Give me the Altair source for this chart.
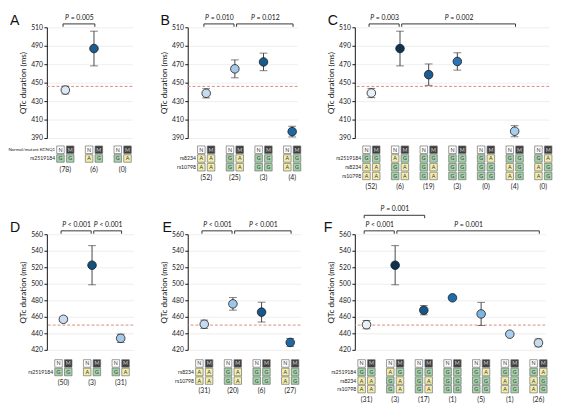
import altair as alt
import pandas as pd

FONT = "Lato"
LETTER_FONT = "Liberation Sans"

# ---------------- data ----------------
YTICKS_TOP = [390, 410, 430, 450, 470, 490, 510]
YTICKS_BOTTOM = [420, 440, 460, 480, 500, 520, 540, 560]
REF_TOP = 446
REF_BOTTOM = 450

# Panel A
A_n = [78, 6, 0]
A_qtc = [442, 487, None]
A_sem = [4.2, 18.8, None]
A_fill = ["#dbe8f5", "#1d5c8c", None]
A_rs2519184 = ["GG", "AG", "GA"]
A_p = [(1, 2, "= 0.005", 1)]

# Panel B
B_n = [52, 25, 3, 4]
B_qtc = [438.5, 465, 472.5, 397]
B_sem = [5, 9.7, 9.5, 5.8]
B_fill = ["#c6dbef", "#a6c9e8", "#185a8c", "#1d68a3"]
B_rs8234 = ["AA", "GA", "GG", "AG"]
B_rs10798 = ["AA", "GA", "GG", "AG"]
B_p = [(1, 2, "= 0.010", 1), (2, 4, "= 0.012", 1)]

# Panel C
C_n = [52, 6, 19, 3, 0, 4, 0]
C_qtc = [438.8, 487, 458.7, 473, None, 397.4, None]
C_sem = [5, 18.8, 11.6, 9.4, None, 6, None]
C_fill = ["#e8eff7", "#0c3353", "#1b5d96", "#2a74b5", None, "#a9cdec", None]
C_rs2519184 = ["GG", "AG", "GG", "GG", "GA", "GG", "GA"]
C_rs8234 = ["AA", "GA", "GA", "GG", "GG", "AG", "AG"]
C_rs10798 = ["AA", "GA", "GA", "GG", "GG", "AG", "AG"]
C_p = [(1, 2, "= 0.003", 1), (2, 6, "= 0.002", 1)]

# Panel D
D_n = [50, 3, 31]
D_qtc = [457, 522.5, 434]
D_sem = [3, 23.7, 5]
D_fill = ["#c9dcf0", "#14507e", "#a8c8e8"]
D_rs2519184 = ["GG", "AG", "GA"]
D_p = [(1, 2, "< 0.001", 1), (2, 3, "< 0.001", 1)]

# Panel E
E_n = [31, 20, 6, 27]
E_qtc = [451, 475.7, 465.7, 429]
E_sem = [5, 7.6, 12, 4.8]
E_fill = ["#c6dbef", "#9fc6e8", "#17578a", "#1f68a6"]
E_rs8234 = ["AA", "GA", "GG", "AG"]
E_rs10798 = ["AA", "GA", "GG", "AG"]
E_p = [(1, 2, "< 0.001", 1), (2, 4, "< 0.001", 1)]

# Panel F
F_n = [31, 3, 17, 1, 5, 1, 26]
F_qtc = [450.5, 522.5, 468, 483, 463.5, 439, 428.5]
F_sem = [5, 23.7, 5.6, None, 14, None, 4.7]
F_fill = ["#e8f0f8", "#0c3353", "#17558a", "#1f6cad", "#7db5e0", "#a9cdec", "#c6dcef"]
F_rs2519184 = ["GG", "AG", "GG", "GG", "GA", "GG", "GA"]
F_rs8234 = ["AA", "GA", "GA", "GG", "GG", "AG", "AG"]
F_rs10798 = ["AA", "GA", "GA", "GG", "GG", "AG", "AG"]
F_p = [(1, 3, "= 0.001", 2), (1, 2, "< 0.001", 1), (2, 7, "= 0.001", 1)]

ALLELES = ["N", "M", "G", "A"]
ALLELE_FILL = ["#ffffff", "#3d3d3d", "#a3d2a9", "#f3eeab"]

PPU = 29.5  # pixels per group step


def panel(letter, n_list, qtc, sem, fill, snps, brackets, yticks, ref,
          L, width, letter_dx, height, tab_gap, pitch, nm_label=None):
    n = len(n_list)
    d0 = 1 - L / PPU
    d1 = d0 + width / PPU
    ymin, ymax = yticks[0], yticks[-1]
    upp = (ymax - ymin) / height

    xs = alt.Scale(domain=[d0, d1], nice=False, zero=False)
    ys = alt.Scale(domain=[ymin, ymax], nice=False, zero=False)

    def X(f):
        return alt.X(f, type="quantitative", scale=xs, axis=None)

    def Y(f):
        return alt.Y(f, type="quantitative", scale=ys, axis=None)

    g = list(range(1, n + 1))
    pts = pd.DataFrame({"g": g, "qtc": qtc, "sem": sem, "fill": fill})
    pts_ok = pts.dropna(subset=["qtc"])[["g", "qtc", "fill"]]
    err = pts.dropna(subset=["sem"]).copy()
    err["lo"] = err["qtc"] - err["sem"]
    err["hi"] = err["qtc"] + err["sem"]
    err = err[["g", "lo", "hi"]]
    caps = pd.concat([
        err[["g", "lo"]].rename(columns={"lo": "v"}),
        err[["g", "hi"]].rename(columns={"hi": "v"}),
    ])

    yaxis = alt.Axis(values=yticks, title="QTc duration (ms)", grid=True,
                     gridColor="#e9e9e9", gridWidth=0.8, domainColor="#111",
                     tickColor="#111", tickSize=3, labelFontSize=7,
                     labelColor="#222", labelPadding=1.5, titleFontSize=8.3,
                     titleFontWeight="normal", titleColor="#111", titlePadding=3)
    xaxis = alt.Axis(labels=False, ticks=False, grid=False, title=None,
                     domainColor="#111", domainWidth=1)

    layers = []
    layers.append(alt.Chart(pd.DataFrame({"v": [ref]})).mark_rule(
        strokeDash=[3, 2], color="#d98a78", strokeWidth=1).encode(y=Y("v")))
    layers.append(alt.Chart(err).mark_rule(color="#444", strokeWidth=1).encode(
        x=X("g"), y=Y("lo"), y2="hi"))
    layers.append(alt.Chart(caps).mark_tick(orient="horizontal", size=8,
                                            thickness=1, color="#444").encode(
        x=X("g"), y=Y("v")))
    layers.append(alt.Chart(pts_ok).mark_circle(
        size=78, opacity=1, stroke="#1a1a1a", strokeWidth=0.8).encode(
        x=alt.X("g:Q", scale=xs, axis=xaxis),
        y=alt.Y("qtc:Q", scale=ys, axis=yaxis),
        color=alt.Color("fill:N", scale=None)))

    # significance brackets
    starts = {(b[0], b[3]) for b in brackets}
    ends = {(b[1], b[3]) for b in brackets}
    hrows, vrows, lrows = [], [], []
    for (a, b, txt, lev) in brackets:
        x1 = a + (0.06 if (a, lev) in ends else -0.08)
        x2 = b + (-0.03 if (b, lev) in starts else 0.03)
        off = 3.5 + 16 * (lev - 1)
        yb = ymax + off * upp
        yt = ymax + (off - 3) * upp
        yl = ymax + (off + 6) * upp
        hrows.append({"x1": x1, "x2": x2, "y": yb})
        vrows.append({"x": x1, "y": yb, "y2": yt})
        vrows.append({"x": x2, "y": yb, "y2": yt})
        lrows.append({"x": (x1 + x2) / 2, "y": yl, "t": txt})
    hdf, vdf, ldf = pd.DataFrame(hrows), pd.DataFrame(vrows), pd.DataFrame(lrows)
    layers.append(alt.Chart(hdf).mark_rule(color="#333", strokeWidth=1).encode(
        x=X("x1"), x2="x2", y=Y("y")))
    layers.append(alt.Chart(vdf).mark_rule(color="#333", strokeWidth=1).encode(
        x=X("x"), y=Y("y"), y2="y2"))
    layers.append(alt.Chart(ldf).mark_text(
        text="P", fontStyle="italic", fontSize=7, align="right", dx=-10.3,
        baseline="middle", color="#111").encode(x=X("x"), y=Y("y")))
    layers.append(alt.Chart(ldf).mark_text(
        fontSize=7, align="left", dx=-8.5, baseline="middle",
        color="#111").encode(x=X("x"), y=Y("y"), text="t:N"))

    ltr = pd.DataFrame({"x": [d0], "y": [ymax + 6 * upp], "t": [letter]})
    layers.append(alt.Chart(ltr).mark_text(
        font=LETTER_FONT, fontSize=14.5, align="left", baseline="middle",
        dx=letter_dx, color="#111").encode(x=X("x"), y=Y("y"), text="t:N"))

    # genotype table
    row_keys = ["nm"] + [s[0] for s in snps] + ["count"]
    cells = []
    for i in range(n):
        cells.append({"g": i + 1, "row": "nm", "col": "N", "allele": "N"})
        cells.append({"g": i + 1, "row": "nm", "col": "M", "allele": "M"})
        for name, gl in snps:
            cells.append({"g": i + 1, "row": name, "col": "N", "allele": gl[i][0]})
            cells.append({"g": i + 1, "row": name, "col": "M", "allele": gl[i][1]})
    cdf = pd.DataFrame(cells)
    y0 = height + tab_gap
    y1 = y0 + pitch * (len(row_keys) - 1)
    tys = alt.Scale(type="point", domain=row_keys, range=[y0, y1], padding=0)
    TY = alt.Y("row:N", scale=tys, axis=None)
    fill_scale = alt.Scale(domain=ALLELES, range=ALLELE_FILL)
    for col, off in (("N", -5), ("M", 5)):
        sub = cdf[cdf["col"] == col]
        layers.append(alt.Chart(sub).mark_square(
            size=60, xOffset=off, opacity=1, stroke="#6f6f6f",
            strokeWidth=0.7).encode(
            x=X("g"), y=TY,
            fill=alt.Fill("allele:N", scale=fill_scale, legend=None)))
        layers.append(alt.Chart(sub).mark_text(
            fontSize=5.5, dx=off, align="center", baseline="middle").encode(
            x=X("g"), y=TY, text="allele:N",
            color=alt.condition(alt.datum.allele == "M",
                                alt.value("#d8d8d8"), alt.value("#333"))))
    cnt = pd.DataFrame({"g": g, "row": "count",
                        "lab": ["(%d)" % c for c in n_list]})
    layers.append(alt.Chart(cnt).mark_text(
        fontSize=7, dy=2.5, color="#222", baseline="middle").encode(
        x=X("g"), y=TY, text="lab:N"))
    labs = ([("nm", nm_label)] if nm_label else []) + [(s[0], s[0]) for s in snps]
    labdf = pd.DataFrame({"g": 1, "row": [a for a, _ in labs],
                          "lab": [b for _, b in labs]})
    layers.append(alt.Chart(labdf).mark_text(
        align="right", dx=-10.5, color="#222", baseline="middle").encode(
        x=X("g"), y=TY, text="lab:N",
        size=alt.condition(alt.datum.row == "nm", alt.value(4.6), alt.value(5.3))))

    return alt.layer(*layers).resolve_scale(y="independent").properties(
        width=width, height=height)


H1, H2 = 114, 119
pA = panel("A", A_n, A_qtc, A_sem, A_fill, [("rs2519184", A_rs2519184)], A_p,
           YTICKS_TOP, REF_TOP, 19, 88, -38, H1, 12, 9,
           nm_label="Normal/mutant KCNQ1")
pB = panel("B", B_n, B_qtc, B_sem, B_fill,
           [("rs8234", B_rs8234), ("rs10798", B_rs10798)], B_p,
           YTICKS_TOP, REF_TOP, 19, 113, -28, H1, 12, 9)
pC = panel("C", C_n, C_qtc, C_sem, C_fill,
           [("rs2519184", C_rs2519184), ("rs8234", C_rs8234),
            ("rs10798", C_rs10798)], C_p,
           YTICKS_TOP, REF_TOP, 17, 200, -28, H1, 12, 9)
pD = panel("D", D_n, D_qtc, D_sem, D_fill, [("rs2519184", D_rs2519184)], D_p,
           YTICKS_BOTTOM, REF_BOTTOM, 17, 89, -38, H2, 14, 8.8)
pE = panel("E", E_n, E_qtc, E_sem, E_fill,
           [("rs8234", E_rs8234), ("rs10798", E_rs10798)], E_p,
           YTICKS_BOTTOM, REF_BOTTOM, 17, 116, -26, H2, 14, 8.8)
pF = panel("F", F_n, F_qtc, F_sem, F_fill,
           [("rs2519184", F_rs2519184), ("rs8234", F_rs8234),
            ("rs10798", F_rs10798)], F_p,
           YTICKS_BOTTOM, REF_BOTTOM, 12, 196, -32, H2, 14, 8.8)

chart = alt.concat(
    pA, pB, pC, pD, pE, pF, columns=3, bounds="flush",
    spacing={"row": 99, "column": 56},
    align={"row": "each", "column": "none"},
).properties(padding=0).configure_view(stroke=None).configure_axis(
    labelFont=FONT, titleFont=FONT
).configure_text(font=FONT)

chart.save("out.html", embed_options={"renderer": "svg", "actions": False})
